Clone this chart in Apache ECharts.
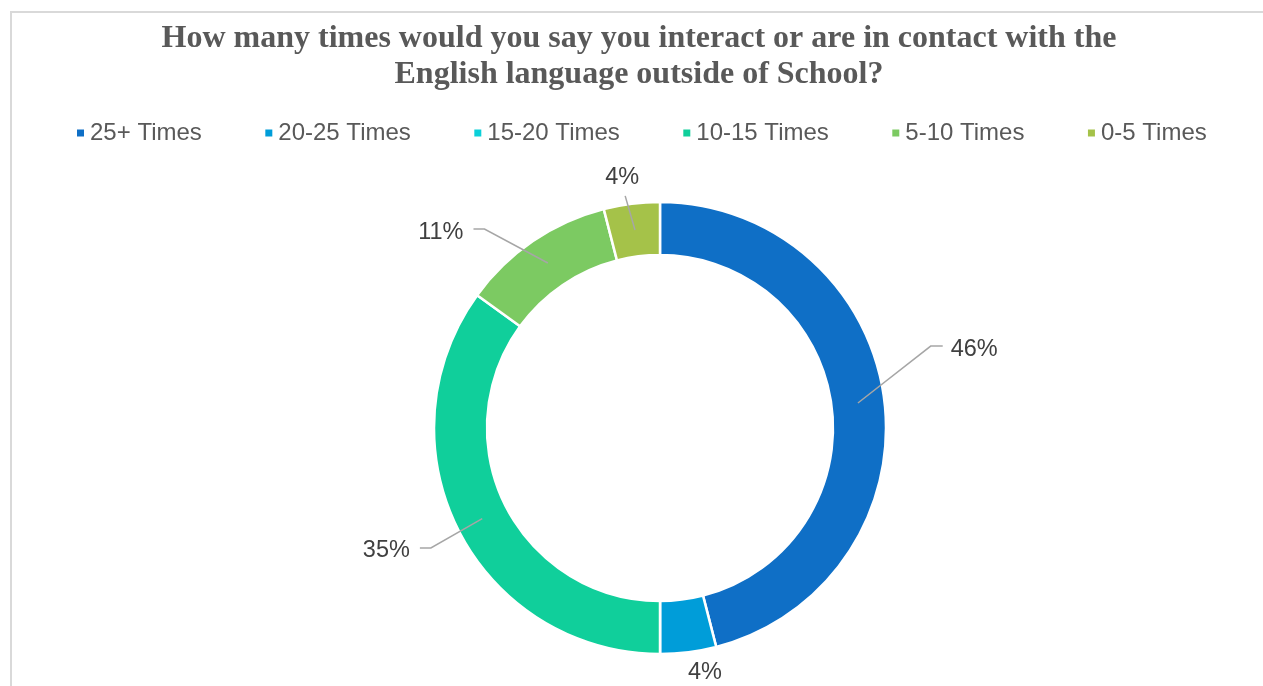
<!DOCTYPE html>
<html>
<head>
<meta charset="utf-8">
<script src="https://cdn.jsdelivr.net/npm/echarts@6/dist/echarts.min.js"></script>
<style>html,body{margin:0;padding:0;background:#fff;}#c{width:1263px;height:686px;}</style>
</head>
<body>
<div id="c"></div>
<script>
const titleText = 'How many times would you say you interact or are in contact with the\nEnglish language outside of School?';
const categories = ['25+ Times', '20-25 Times', '15-20 Times', '10-15 Times', '5-10 Times', '0-5 Times'];
const percentages = [46, 4, 0, 35, 11, 4];
const colors = ['#0F6FC6', '#009DD9', '#0BD0D9', '#10CF9B', '#7CCA62', '#A5C249'];

// label placement (layout only): [angle shift from slice mid-angle in degrees, distance from centre, line mode]
const labelPlacement = [[-6.9, 324, 'side'], [-3.2, 249, 'none'], [0, 0, 'none'], [2.8, 300, 'side'], [-14, 294, 'side'], [-1.4, 253, 'below']];

const CX = 660, CY = 428, R_IN = 173, R_OUT = 226;
const R_MID = (R_IN + R_OUT) / 2;
const total = percentages.reduce((a, b) => a + b, 0);
const midAngles = [];
{
  let acc = 0;
  percentages.forEach(v => { midAngles.push((acc + v / 2) / total * 360); acc += v; });
}
function polar(deg, r) {
  const a = deg * Math.PI / 180;
  return [CX + r * Math.sin(a), CY - r * Math.cos(a)];
}

const ringData = categories.map((c, i) => ({
  name: c,
  value: percentages[i],
  itemStyle: { color: colors[i] }
}));
const labelData = categories.map((c, i) => ({
  name: c,
  value: percentages[i],
  label: { show: percentages[i] > 0 },
  labelLine: { show: percentages[i] > 0 && labelPlacement[i][2] !== 'none' }
}));

const chart = echarts.init(document.getElementById('c'), null, { renderer: 'canvas' });
chart.setOption({
  backgroundColor: '#fff',
  animation: false,
  title: {
    text: titleText,
    left: 634,
    top: 16,
    textAlign: 'center',
    textStyle: {
      fontFamily: 'Liberation Serif, Times New Roman, serif',
      fontWeight: 'bold',
      fontSize: 32,
      lineHeight: 36,
      color: '#595959'
    }
  },
  legend: {
    data: categories,
    left: 70,
    top: 116,
    icon: 'rect',
    itemWidth: 9,
    itemHeight: 9,
    itemGap: 61.5,
    textStyle: {
      fontFamily: 'Liberation Sans, Arial, sans-serif',
      fontSize: 24,
      color: '#595959',
      padding: [0, 0, 0, 0]
    }
  },
  graphic: [{
    type: 'rect',
    shape: { x: 11, y: 12, width: 1400, height: 800 },
    style: { fill: 'none', stroke: '#d9d9d9', lineWidth: 2 },
    silent: true
  }],
  series: [{
    type: 'pie',
    z: 2,
    center: [CX, CY],
    radius: [R_IN, R_OUT],
    startAngle: 90,
    clockwise: true,
    stillShowZeroSum: true,
    itemStyle: { borderColor: '#ffffff', borderWidth: 2.5 },
    label: { show: false },
    labelLine: { show: false },
    data: ringData
  }, {
    type: 'pie',
    z: 3,
    silent: true,
    center: [CX, CY],
    radius: [R_IN, R_OUT],
    startAngle: 90,
    clockwise: true,
    avoidLabelOverlap: false,
    stillShowZeroSum: true,
    itemStyle: { color: 'rgba(0,0,0,0)', borderWidth: 0 },
    label: {
      show: true,
      position: 'outside',
      formatter: p => p.value + '%',
      fontFamily: 'Liberation Sans, Arial, sans-serif',
      fontSize: 23.5,
      color: '#404040'
    },
    labelLine: {
      show: true,
      length: 10,
      length2: 10,
      lineStyle: { color: '#A6A6A6', width: 1.5 }
    },
    labelLayout: function (params) {
      const i = params.dataIndex;
      const pl = labelPlacement[i];
      if (!pl || pl[1] === 0) return {};
      const pos = polar(midAngles[i] + pl[0], pl[1]);
      const w = params.labelRect.width, h = params.labelRect.height;
      const start = polar(midAngles[i], R_MID);
      let pts;
      if (pl[2] === 'side') {
        const right = pos[0] > CX;
        const edge = right ? pos[0] - w / 2 - 8 : pos[0] + w / 2 + 10;
        const bend = right ? edge - 12 : edge + 11;
        const ly = pos[1] - 3;
        pts = [start, [bend, ly], [edge, ly]];
      } else if (pl[2] === 'below') {
        const end = [pos[0] + 3, pos[1] + h / 2 + 6];
        pts = [start, end, end];
      }
      const out = { x: pos[0], y: pos[1], align: 'center', verticalAlign: 'middle' };
      if (pts) out.labelLinePoints = pts;
      return out;
    },
    data: labelData
  }]
});
</script>
</body>
</html>
